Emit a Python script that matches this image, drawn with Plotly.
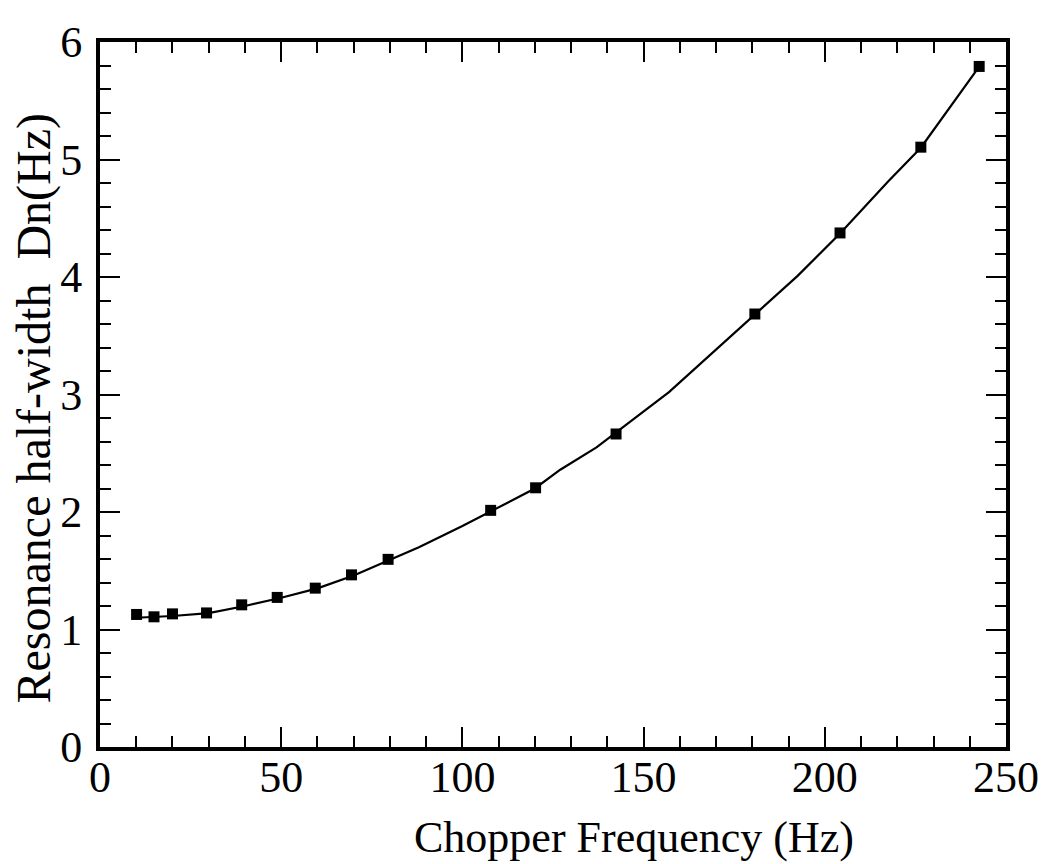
import plotly.graph_objects as go

# Measured data points
freq = [10.1, 14.9, 20.0, 29.4, 39.1, 48.9, 59.4, 69.4, 79.5, 107.8, 120.2, 142.4, 180.7, 204.2, 226.5, 242.6]
width = [1.128, 1.108, 1.133, 1.141, 1.21, 1.273, 1.352, 1.465, 1.597, 2.014, 2.206, 2.664, 3.685, 4.375, 5.105, 5.792]

# Fitted curve
fit_x = [10, 15, 20, 30, 40, 50, 60, 70, 80, 88, 100, 108, 120, 127, 137, 157, 180.7, 192.5, 204.2, 217.4, 226.5, 242.6]
fit_y = [1.10, 1.105, 1.115, 1.14, 1.20, 1.27, 1.35, 1.46, 1.59, 1.70, 1.88, 2.01, 2.20, 2.36, 2.55, 3.02, 3.68, 4.01, 4.37, 4.81, 5.10, 5.79]

x_ticks = [0, 50, 100, 150, 200, 250]
y_ticks = [0, 1, 2, 3, 4, 5, 6]

FONT = "Liberation Serif"

fig = go.Figure()
fig.add_trace(go.Scatter(x=fit_x, y=fit_y, mode="lines",
                         line=dict(color="black", width=2.2), showlegend=False))
fig.add_trace(go.Scatter(x=freq, y=width, mode="markers",
                         marker=dict(symbol="square", size=11, color="black"),
                         showlegend=False))

axis_common = dict(
    showgrid=False, zeroline=False, showline=True, linecolor="black", linewidth=4,
    mirror="allticks", ticks="inside", ticklen=20, tickwidth=2, tickcolor="black",
    tickfont=dict(family=FONT, size=44, color="black"),
    ticklabeloverflow="allow",
)

fig.update_xaxes(range=[0, 250], tickvals=x_ticks, ticktext=[str(v) for v in x_ticks],
                 ticklabelstandoff=-12,
                 minor=dict(ticks="inside", ticklen=11, tickwidth=2, tickcolor="black", dtick=10, tick0=0),
                 **axis_common)
fig.update_yaxes(range=[0, 6], tickvals=y_ticks, ticktext=[str(v) for v in y_ticks],
                 ticklabelstandoff=5,
                 minor=dict(ticks="inside", ticklen=11, tickwidth=2, tickcolor="black", dtick=0.2, tick0=0),
                 **axis_common)

fig.add_annotation(text="Chopper Frequency (Hz)", xref="paper", yref="paper",
                   x=0.589, y=-0.128, xanchor="center", yanchor="middle", showarrow=False,
                   font=dict(family=FONT, size=44, color="black"))
fig.add_annotation(text="Resonance half-width\u00a0 Dn(Hz)", xref="paper", yref="paper",
                   x=-0.073, y=0.48, xanchor="center", yanchor="middle", showarrow=False,
                   textangle=-90, font=dict(family=FONT, size=48, color="black"))

# page body has an 8px margin, so the figure is sized/offset to compensate
fig.update_layout(
    width=1046, height=856,
    margin=dict(l=92, r=48, t=10, b=117),
    paper_bgcolor="white", plot_bgcolor="white",
    font=dict(family=FONT, color="black"),
)

fig.write_html("out.html")
